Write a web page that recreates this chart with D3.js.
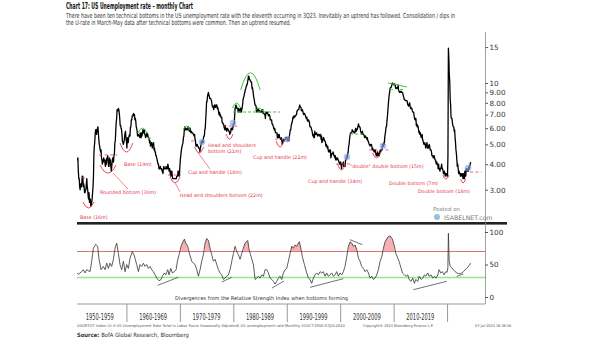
<!DOCTYPE html>
<html>
<head>
<meta charset="utf-8">
<script src="https://cdn.jsdelivr.net/npm/d3@7/dist/d3.min.js"></script>
<style>
  body { margin: 0; background: #fff; }
  svg { display: block; }
  .narrow { font-family: "Liberation Sans Narrow", "Arial Narrow", "DejaVu Sans Condensed", sans-serif; }
  .verd { font-family: "DejaVu Sans", Verdana, sans-serif; }
</style>
</head>
<body>
<svg id="chart" width="605" height="341"></svg>
<script>
// US unemployment rate (U-3, SA), monthly, first value = Oct 1950
var firstMonth = 1950 + 9 / 12;
var unrate = [
  4.2, 4.2, 4.3,
  3.7, 3.4, 3.4, 3.1, 3.0, 3.2, 3.1, 3.1, 3.3, 3.5, 3.5, 3.1,   // 1951
  3.2, 3.1, 2.9, 2.9, 3.0, 3.0, 3.2, 3.4, 3.1, 3.0, 2.8, 2.7,   // 1952
  2.9, 2.6, 2.6, 2.7, 2.5, 2.5, 2.6, 2.7, 2.9, 3.1, 3.5, 4.5,   // 1953
  4.9, 5.2, 5.7, 5.9, 5.9, 5.6, 5.8, 6.0, 6.1, 5.7, 5.3, 5.0,   // 1954
  4.9, 4.7, 4.6, 4.7, 4.3, 4.2, 4.0, 4.2, 4.1, 4.3, 4.2, 4.2,   // 1955
  4.0, 3.9, 4.2, 4.0, 4.3, 4.3, 4.4, 4.1, 3.9, 3.9, 4.3, 4.2,   // 1956
  4.2, 3.9, 3.7, 3.9, 4.1, 4.3, 4.2, 4.1, 4.4, 4.5, 5.1, 5.2,   // 1957
  5.8, 6.4, 6.7, 7.4, 7.4, 7.3, 7.5, 7.4, 7.1, 6.7, 6.2, 6.2,   // 1958
  6.0, 5.9, 5.6, 5.2, 5.1, 5.0, 5.1, 5.2, 5.5, 5.7, 5.8, 5.3,   // 1959
  5.2, 4.8, 5.4, 5.2, 5.1, 5.4, 5.5, 5.6, 5.5, 6.1, 6.1, 6.6,   // 1960
  6.6, 6.9, 6.9, 7.0, 7.1, 6.9, 7.0, 6.6, 6.7, 6.5, 6.1, 6.0,   // 1961
  5.8, 5.5, 5.6, 5.6, 5.5, 5.5, 5.4, 5.7, 5.6, 5.4, 5.7, 5.5,   // 1962
  5.7, 5.9, 5.7, 5.7, 5.9, 5.6, 5.6, 5.4, 5.5, 5.5, 5.7, 5.5,   // 1963
  5.6, 5.4, 5.4, 5.3, 5.1, 5.2, 4.9, 5.0, 5.1, 5.1, 4.8, 5.0,   // 1964
  4.9, 5.1, 4.7, 4.8, 4.6, 4.6, 4.4, 4.4, 4.3, 4.2, 4.1, 4.0,   // 1965
  4.0, 3.8, 3.8, 3.8, 3.9, 3.8, 3.8, 3.8, 3.7, 3.7, 3.6, 3.8,   // 1966
  3.9, 3.8, 3.8, 3.8, 3.8, 3.9, 3.8, 3.8, 3.8, 4.0, 3.9, 3.8,   // 1967
  3.7, 3.8, 3.7, 3.5, 3.5, 3.7, 3.7, 3.5, 3.4, 3.4, 3.4, 3.4,   // 1968
  3.4, 3.4, 3.4, 3.4, 3.4, 3.5, 3.5, 3.5, 3.7, 3.7, 3.5, 3.5,   // 1969
  3.9, 4.2, 4.4, 4.6, 4.8, 4.9, 5.0, 5.1, 5.4, 5.5, 5.9, 6.1,   // 1970
  5.9, 5.9, 6.0, 5.9, 5.9, 5.9, 6.0, 6.1, 6.0, 5.8, 6.0, 6.0,   // 1971
  5.8, 5.7, 5.8, 5.7, 5.7, 5.7, 5.6, 5.6, 5.5, 5.6, 5.3, 5.2,   // 1972
  4.9, 5.0, 4.9, 5.0, 4.9, 4.9, 4.8, 4.8, 4.8, 4.6, 4.8, 4.9,   // 1973
  5.1, 5.2, 5.1, 5.1, 5.1, 5.4, 5.5, 5.5, 5.9, 6.0, 6.6, 7.2,   // 1974
  8.1, 8.1, 8.6, 8.8, 9.0, 8.8, 8.6, 8.4, 8.4, 8.4, 8.3, 8.2,   // 1975
  7.9, 7.7, 7.6, 7.7, 7.4, 7.6, 7.8, 7.8, 7.6, 7.7, 7.8, 7.8,   // 1976
  7.5, 7.6, 7.4, 7.2, 7.0, 7.2, 6.9, 7.0, 6.8, 6.8, 6.8, 6.4,   // 1977
  6.4, 6.3, 6.3, 6.1, 6.0, 5.9, 6.2, 5.9, 6.0, 5.8, 5.9, 6.0,   // 1978
  5.9, 5.9, 5.8, 5.8, 5.6, 5.7, 5.7, 6.0, 5.9, 6.0, 5.9, 6.0,   // 1979
  6.3, 6.3, 6.3, 6.9, 7.5, 7.6, 7.8, 7.7, 7.5, 7.5, 7.5, 7.2,   // 1980
  7.5, 7.4, 7.4, 7.2, 7.5, 7.5, 7.2, 7.4, 7.6, 7.9, 8.3, 8.5,   // 1981
  8.6, 8.9, 9.0, 9.3, 9.4, 9.6, 9.8, 9.8, 10.1, 10.4, 10.8, 10.8, // 1982
  10.4, 10.4, 10.3, 10.2, 10.1, 10.1, 9.4, 9.5, 9.2, 8.8, 8.5, 8.3, // 1983
  8.0, 7.8, 7.8, 7.7, 7.4, 7.2, 7.5, 7.5, 7.3, 7.4, 7.2, 7.3,   // 1984
  7.3, 7.2, 7.2, 7.3, 7.2, 7.4, 7.4, 7.1, 7.1, 7.1, 7.0, 7.0,   // 1985
  6.7, 7.2, 7.2, 7.1, 7.2, 7.2, 7.0, 6.9, 7.0, 7.0, 6.9, 6.6,   // 1986
  6.6, 6.6, 6.6, 6.3, 6.3, 6.2, 6.1, 6.0, 5.9, 6.0, 5.8, 5.7,   // 1987
  5.7, 5.7, 5.7, 5.4, 5.6, 5.4, 5.4, 5.6, 5.4, 5.4, 5.3, 5.3,   // 1988
  5.4, 5.2, 5.0, 5.2, 5.2, 5.3, 5.2, 5.2, 5.3, 5.3, 5.4, 5.4,   // 1989
  5.4, 5.3, 5.2, 5.4, 5.4, 5.2, 5.5, 5.7, 5.9, 5.9, 6.2, 6.3,   // 1990
  6.4, 6.6, 6.8, 6.7, 6.9, 6.9, 6.8, 6.9, 6.9, 7.0, 7.0, 7.3,   // 1991
  7.3, 7.4, 7.4, 7.4, 7.6, 7.8, 7.7, 7.6, 7.6, 7.3, 7.4, 7.4,   // 1992
  7.3, 7.1, 7.0, 7.1, 7.1, 7.0, 6.9, 6.8, 6.7, 6.8, 6.6, 6.5,   // 1993
  6.6, 6.6, 6.5, 6.4, 6.1, 6.1, 6.1, 6.0, 5.9, 5.8, 5.6, 5.5,   // 1994
  5.6, 5.4, 5.4, 5.8, 5.6, 5.6, 5.7, 5.7, 5.6, 5.5, 5.6, 5.6,   // 1995
  5.6, 5.5, 5.5, 5.6, 5.6, 5.3, 5.5, 5.1, 5.2, 5.2, 5.4, 5.4,   // 1996
  5.3, 5.2, 5.2, 5.1, 4.9, 5.0, 4.9, 4.8, 4.9, 4.7, 4.6, 4.7,   // 1997
  4.6, 4.6, 4.7, 4.3, 4.4, 4.5, 4.5, 4.5, 4.6, 4.5, 4.4, 4.4,   // 1998
  4.3, 4.4, 4.2, 4.3, 4.2, 4.3, 4.3, 4.2, 4.2, 4.1, 4.1, 4.0,   // 1999
  4.0, 4.1, 4.0, 3.8, 4.0, 4.0, 4.0, 4.1, 3.9, 3.9, 3.9, 3.9,   // 2000
  4.2, 4.2, 4.3, 4.4, 4.3, 4.5, 4.6, 4.9, 5.0, 5.3, 5.5, 5.7,   // 2001
  5.7, 5.7, 5.7, 5.9, 5.8, 5.8, 5.8, 5.7, 5.7, 5.7, 5.9, 6.0,   // 2002
  5.8, 5.9, 5.9, 6.0, 6.1, 6.3, 6.2, 6.1, 6.1, 6.0, 5.8, 5.7,   // 2003
  5.7, 5.6, 5.8, 5.6, 5.6, 5.6, 5.5, 5.4, 5.4, 5.5, 5.4, 5.4,   // 2004
  5.3, 5.4, 5.2, 5.2, 5.1, 5.0, 5.0, 4.9, 5.0, 5.0, 5.0, 4.9,   // 2005
  4.7, 4.8, 4.7, 4.7, 4.6, 4.6, 4.7, 4.7, 4.5, 4.4, 4.5, 4.4,   // 2006
  4.6, 4.5, 4.4, 4.5, 4.4, 4.6, 4.7, 4.6, 4.7, 4.7, 4.7, 5.0,   // 2007
  5.0, 4.9, 5.1, 5.0, 5.4, 5.6, 5.8, 6.1, 6.1, 6.5, 6.8, 7.3,   // 2008
  7.8, 8.3, 8.7, 9.0, 9.4, 9.5, 9.5, 9.6, 9.8, 10.0, 9.9, 9.9,  // 2009
  9.8, 9.8, 9.9, 9.9, 9.6, 9.4, 9.4, 9.5, 9.5, 9.4, 9.8, 9.3,   // 2010
  9.1, 9.0, 9.0, 9.1, 9.0, 9.1, 9.0, 9.0, 9.0, 8.8, 8.6, 8.5,   // 2011
  8.3, 8.3, 8.2, 8.2, 8.2, 8.2, 8.2, 8.0, 7.8, 7.8, 7.7, 7.9,   // 2012
  8.0, 7.7, 7.5, 7.6, 7.5, 7.5, 7.3, 7.2, 7.2, 7.2, 6.9, 6.7,   // 2013
  6.6, 6.7, 6.7, 6.2, 6.3, 6.1, 6.2, 6.1, 5.9, 5.7, 5.8, 5.6,   // 2014
  5.7, 5.5, 5.4, 5.4, 5.6, 5.3, 5.2, 5.1, 5.0, 5.0, 5.1, 5.0,   // 2015
  4.8, 4.9, 5.0, 5.1, 4.8, 4.9, 4.8, 4.9, 5.0, 4.9, 4.7, 4.7,   // 2016
  4.7, 4.6, 4.4, 4.4, 4.4, 4.3, 4.3, 4.4, 4.3, 4.2, 4.2, 4.1,   // 2017
  4.0, 4.1, 4.0, 4.0, 3.8, 4.0, 3.8, 3.8, 3.7, 3.8, 3.8, 3.9,   // 2018
  4.0, 3.8, 3.8, 3.7, 3.6, 3.6, 3.7, 3.6, 3.5, 3.6, 3.6, 3.6,   // 2019
  3.5, 3.5, 4.4, 14.8, 13.2, 11.0, 10.2, 8.4, 7.8, 6.8, 6.7, 6.7, // 2020
  6.4, 6.2, 6.1, 6.1, 5.8, 5.9, 5.4, 5.1, 4.7, 4.5, 4.2, 3.9,   // 2021
  4.0, 3.8, 3.6, 3.7, 3.6, 3.6, 3.5, 3.6, 3.5, 3.6, 3.6, 3.5,   // 2022
  3.4, 3.6, 3.5, 3.4, 3.7, 3.6, 3.5, 3.8, 3.8, 3.8, 3.7, 3.7,   // 2023
  3.7, 3.9, 3.8, 3.9, 4.0, 4.1                                  // 2024
];

// RSI of the rate: [year, rsi]
var rsiPoints = [
  [1950.75,37],[1951.0,35],[1951.63,39],[1951.94,42],[1952.25,37],[1952.56,42],[1953.19,39],[1953.5,55],
  [1953.81,75],[1954.25,81],[1954.62,78],[1954.87,58],[1955.25,42],[1955.68,47],[1956.0,42],[1956.31,52],
  [1956.62,44],[1956.93,52],[1957.24,47],[1957.56,58],[1957.87,75],[1958.18,83],[1958.49,67],[1958.8,50],
  [1959.12,42],[1959.43,55],[1959.74,39],[1960.05,50],[1960.36,44],[1960.68,60],[1961.11,70],[1961.49,63],
  [1961.92,50],[1962.24,39],[1962.55,50],[1962.86,47],[1963.17,52],[1963.48,47],[1963.8,50],[1964.11,44],
  [1964.42,47],[1964.73,42],[1965.04,39],[1965.36,34],[1965.67,29],[1966.1,25],[1966.48,27],[1966.73,32],
  [1967.1,37],[1967.35,34],[1967.73,42],[1967.98,34],[1968.29,44],[1968.6,37],[1968.98,39],[1969.29,42],
  [1969.54,55],[1969.85,65],[1970.22,78],[1970.47,83],[1970.85,89],[1971.1,83],[1971.47,78],[1971.78,67],
  [1972.22,55],[1972.53,52],[1972.84,50],[1973.16,42],[1973.47,32],[1973.78,42],[1974.09,55],[1974.4,65],
  [1974.72,83],[1975.03,90],[1975.34,87],[1975.65,75],[1975.96,65],[1976.28,55],[1976.59,58],[1976.9,50],
  [1977.21,42],[1977.52,37],[1977.84,34],[1978.15,27],[1978.46,29],[1978.77,32],[1979.08,34],[1979.4,42],
  [1979.71,55],[1980.02,67],[1980.33,78],[1980.64,70],[1980.96,65],[1981.27,58],[1981.58,67],[1981.89,75],
  [1982.2,83],[1982.7,87],[1982.95,73],[1983.33,62],[1983.76,50],[1984.08,27],[1984.39,29],[1984.7,32],
  [1985.01,29],[1985.32,34],[1985.64,32],[1985.95,42],[1986.26,42],[1986.57,37],[1986.88,29],[1987.2,27],
  [1987.51,24],[1987.82,20],[1988.12,24],[1988.43,29],[1988.75,32],[1989.06,27],[1989.37,37],[1989.68,42],
  [1989.99,44],[1990.31,55],[1990.62,67],[1990.93,78],[1991.24,75],[1991.55,80],[1991.87,78],[1992.18,83],
  [1992.37,85],[1992.68,73],[1992.93,62],[1993.3,50],[1993.74,37],[1994.05,29],[1994.36,27],[1994.67,21],
  [1994.99,29],[1995.3,34],[1995.61,37],[1995.92,34],[1996.23,39],[1996.55,37],[1996.86,39],[1997.17,32],
  [1997.48,37],[1997.79,32],[1998.11,34],[1998.42,37],[1998.73,32],[1999.04,34],[1999.35,39],[1999.67,32],
  [1999.98,37],[2000.29,34],[2000.6,39],[2000.91,47],[2001.23,62],[2001.54,78],[2001.85,85],[2002.16,83],
  [2002.47,78],[2002.79,80],[2003.1,73],[2003.41,60],[2003.72,55],[2004.03,47],[2004.35,44],[2004.66,39],
  [2004.97,42],[2005.28,37],[2005.59,29],[2005.91,32],[2006.22,27],[2006.53,29],[2006.84,34],[2007.15,42],
  [2007.47,55],[2007.78,62],[2008.09,75],[2008.4,85],[2008.9,92],[2009.34,94],[2009.77,89],[2010.15,78],
  [2010.4,67],[2010.77,60],[2011.02,55],[2011.4,44],[2011.65,37],[2012.02,34],[2012.33,32],[2012.65,34],
  [2012.89,27],[2013.27,24],[2013.58,29],[2013.89,21],[2014.14,27],[2014.52,24],[2014.77,32],[2015.14,27],
  [2015.45,29],[2015.77,34],[2016.02,32],[2016.39,37],[2016.64,32],[2017.01,34],[2017.33,29],[2017.64,32],
  [2017.95,29],[2018.26,34],[2018.51,42],[2018.82,37],[2019.13,39],[2019.45,34],[2019.76,39],[2020.0,38],
  [2020.15,45],[2020.25,98],[2020.4,55],[2020.6,47],[2020.88,45],[2021.19,42],[2021.51,39],[2021.82,37],
  [2022.13,36],[2022.44,36],[2022.76,37],[2023.07,39],[2023.38,42],[2023.69,44],[2024.0,47],[2024.4,52]
];

// overbought episodes that are shaded pink
var shadedPeaks = [[1970.1,1971.7],[1974.5,1975.9],[1981.8,1983.1],[1990.6,1992.8],[2001.3,2003.3],[2008.0,2010.3]];

var rateTicks = [3, 4, 5, 6, 7, 8, 9, 10, 15];
var rsiTicks = [0, 50, 100];
var decadeBreaks = [1960, 1970, 1980, 1990, 2000, 2010, 2020];
var decadeLabels = ["1950-1959", "1960-1969", "1970-1979", "1980-1989", "1990-1999", "2000-2009", "2010-2019"];
var rsiLevels = [30, 70];

// chart pattern annotations, in data units
var patternLabels = [
  ["Base (16m)", 1951.3, 2.20],
  ["Rounded bottom (30m)", 1955.05, 2.92],
  ["Base (19m)", 1959.55, 4.01],
  ["Head and shoulders bottom (22m)", 1970.0, 2.82],
  ["Cup and handle (18m)", 1971.5, 3.66],
  ["Head and shoulders", 1975.27, 4.97],
  ["bottom (21m)", 1975.27, 4.64],
  ["Cup and handle (22m)", 1983.7, 4.34],
  ["Cup and handle (34m)", 1994.0, 3.31],
  ["\"double\" double bottom (15m)", 2001.85, 3.92],
  ["Double bottom (7m)", 2009.15, 3.24],
  ["Double bottom (18m)", 2014.55, 2.96]
];
// [centre year, half width (years), apex value, end value]
var bottomArcs = [
  [1952.9, 1.03, 2.44, 2.61], [1956.55, 1.5, 3.62, 3.96], [1960.0, 1.2, 4.59, 5.08],
  [1969.1, 0.94, 3.24, 3.46], [1973.6, 0.84, 4.54, 4.85], [1979.3, 0.65, 5.31, 5.62],
  [1988.75, 0.75, 4.85, 5.2], [2000.25, 0.75, 3.75, 4.01], [2006.8, 0.75, 4.29, 4.54],
  [2019.8, 0.56, 3.38, 3.54], [2023.0, 0.47, 3.24, 3.38]
];
var topArcs = [
  [1963.0, 0.84, 6.01, 5.69], [1971.25, 0.65, 6.15, 5.88], [1980.6, 0.75, 7.98, 7.54],
  [1983.2, 1.82, 11.23, 9.24], [1984.8, 0.75, 7.54, 7.29]
];
var necklines = [
  [1951.7, 1952.4, 3.42], [1954.9, 1958.3, 4.44], [1967.8, 1970.2, 3.54], [1972.1, 1973.2, 5.2],
  [1978.1, 1980.7, 6.15], [1987.8, 1990.6, 5.31], [1999.2, 2001.85, 4.01], [2005.4, 2009.3, 4.7],
  [2024.3, 2026.5, 3.66]
];
var leaders = [
  [1957.5, 3.62, 1960.3, 3.02], [1969.1, 3.23, 1970.03, 2.93], [1973.4, 4.54, 1975.65, 3.79]
];
var breakouts = [[1974.14, 5.14], [1979.95, 6.37], [1990.05, 5.31], [2001.28, 4.34], [2008.0, 4.91], [2023.93, 3.83]];
var topLines = [[1964.0, 1964.8, 5.37], [1979.95, 1988.74, 7.21], [2001.84, 2004.27, 5.62], [2009.3, 2009.9, 9.3], [2011.2, 2011.8, 9.3]];
var topTrend = [2008.96, 10.0, 2012.5, 9.56];
var divergences = [
  [1965.85, 18, 1969.71, 30.3], [1977.83, 23, 1979.7, 30.3], [1987.25, 13.8, 1989.49, 24.6],
  [1994.36, 14.9, 2000.59, 28.2], [2001.84, 88.2, 2004.15, 80.5], [2013.69, 11.2, 2019.94, 24.2],
  [2021.81, 31.8, 2023.05, 35.4]
];

var title = "Chart 17: US Unemployment rate \u2013 monthly Chart";
var subtitle = [
  "There have been ten technical bottoms in the US unemployment rate with the eleventh occurring in 3Q23. Inevitably an uptrend has followed. Consolidation / dips in",
  "the U-rate in March-May data after technical bottoms were common. Then an uptrend resumed."
];

var svg = d3.select("#chart");
var red = "#e8344e", green = "#35c935";

var x = d3.scaleLinear().domain([1950.75, 2027.1]).range([77, 485]);
var y = d3.scaleLog().domain([2.06, 17.78]).range([223, 32]);
var yr = d3.scaleLinear().domain([0, 100]).range([297, 232]);

// header
svg.append("text").attr("class", "narrow").attr("x", 66).attr("y", 8.5)
  .attr("font-size", 8.5).attr("font-weight", "bold").attr("fill", "#111")
  .attr("textLength", 127).attr("lengthAdjust", "spacingAndGlyphs").text(title);
svg.selectAll(".sub").data(subtitle).enter().append("text").attr("class", "narrow")
  .attr("x", 66).attr("y", function (d, i) { return 17.5 + i * 7.6; })
  .attr("font-size", 7).attr("fill", "#333")
  .attr("textLength", function (d, i) { return i === 0 ? 389 : 225; })
  .attr("lengthAdjust", "spacingAndGlyphs").text(function (d) { return d; });

// clip for the top panel
svg.append("clipPath").attr("id", "topClip").append("rect")
  .attr("x", 77).attr("y", 30).attr("width", 408).attr("height", 193);

// unemployment line
var rateLine = d3.line()
  .x(function (d, i) { return x(firstMonth + i / 12); })
  .y(function (d) { return y(d); });
svg.append("path").datum(unrate).attr("clip-path", "url(#topClip)")
  .attr("d", rateLine).attr("fill", "none").attr("stroke", "#000").attr("stroke-width", 1.3)
  .attr("stroke-linejoin", "round");

// annotations on the top panel
function arcPath(a) {
  var cx = x(a[0]), hw = x(a[0] + a[1]) - cx, ap = y(a[2]), en = y(a[3]);
  return "M" + (cx - hw) + "," + en + "Q" + cx + "," + (2 * ap - en) + " " + (cx + hw) + "," + en;
}
var ann = svg.append("g");
ann.selectAll(".neck").data(necklines).enter().append("line")
  .attr("x1", function (d) { return x(d[0]); }).attr("x2", function (d) { return x(d[1]); })
  .attr("y1", function (d) { return y(d[2]); }).attr("y2", function (d) { return y(d[2]); })
  .attr("stroke", red).attr("stroke-width", 0.9).attr("stroke-dasharray", "3,2.5").attr("opacity", 0.85);
ann.selectAll(".tl").data(topLines).enter().append("line")
  .attr("x1", function (d) { return x(d[0]); }).attr("x2", function (d) { return x(d[1]); })
  .attr("y1", function (d) { return y(d[2]); }).attr("y2", function (d) { return y(d[2]); })
  .attr("stroke", green).attr("stroke-width", 1).attr("stroke-dasharray", "3,2");
ann.append("line")
  .attr("x1", x(topTrend[0])).attr("y1", y(topTrend[1])).attr("x2", x(topTrend[2])).attr("y2", y(topTrend[3]))
  .attr("stroke", green).attr("stroke-width", 1);
ann.selectAll(".ba").data(bottomArcs).enter().append("path").attr("d", arcPath)
  .attr("fill", "none").attr("stroke", red).attr("stroke-width", 0.9);
ann.selectAll(".ta").data(topArcs).enter().append("path").attr("d", arcPath)
  .attr("fill", "none").attr("stroke", green).attr("stroke-width", 1);
ann.selectAll(".ld").data(leaders).enter().append("line")
  .attr("x1", function (d) { return x(d[0]); }).attr("y1", function (d) { return y(d[1]); })
  .attr("x2", function (d) { return x(d[2]); }).attr("y2", function (d) { return y(d[3]); })
  .attr("stroke", red).attr("stroke-width", 0.6);
ann.selectAll(".bo").data(breakouts).enter().append("circle")
  .attr("cx", function (d) { return x(d[0]); }).attr("cy", function (d) { return y(d[1]); })
  .attr("r", 3.3).attr("fill", "#7fa8ea").attr("fill-opacity", 0.65);
ann.selectAll(".pl").data(patternLabels).enter().append("text").attr("class", "verd")
  .attr("x", function (d) { return x(d[1]); }).attr("y", function (d) { return y(d[2]) + 1.7; })
  .attr("font-size", 4.8).attr("fill", red).text(function (d) { return d[0]; });

// posted on
svg.append("text").attr("class", "verd").attr("x", 433).attr("y", 211).attr("font-size", 5.5)
  .attr("fill", "#888").text("Posted on");
svg.append("circle").attr("cx", 437).attr("cy", 217).attr("r", 3).attr("fill", "#7ab0d8").attr("opacity", 0.8);
svg.append("text").attr("class", "verd").attr("x", 444).attr("y", 220).attr("font-size", 6.2)
  .attr("fill", "#777").text("ISABELNET.com");

// top axis
var rateAxis = d3.axisRight(y).tickValues(rateTicks).tickSize(3)
  .tickFormat(function (d) { return d >= 10 ? d3.format("d")(d) : d3.format(".2f")(d); });
var ga = svg.append("g").attr("transform", "translate(485,0)").call(rateAxis);
ga.select(".domain").remove();
ga.selectAll("line").attr("stroke", "#555");
ga.selectAll("text").attr("class", "verd").attr("font-size", 7.2).attr("fill", "#333").attr("x", 4.5);

// panel separator
svg.append("rect").attr("x", 77).attr("y", 222).attr("width", 430).attr("height", 2.6).attr("fill", "#222");
svg.append("line").attr("x1", 485.5).attr("x2", 485.5).attr("y1", 32).attr("y2", 304)
  .attr("stroke", "#888").attr("stroke-width", 0.8);

// RSI panel
svg.append("clipPath").attr("id", "above70").append("rect")
  .attr("x", 77).attr("y", 226).attr("width", 408).attr("height", yr(70) - 226);
var rsiArea = d3.area()
  .x(function (d) { return x(d[0]); }).y0(yr(70)).y1(function (d) { return yr(d[1]); });
shadedPeaks.forEach(function (w) {
  var pts = rsiPoints.filter(function (d) { return d[0] >= w[0] && d[0] <= w[1]; });
  svg.append("path").datum(pts).attr("clip-path", "url(#above70)")
    .attr("d", rsiArea).attr("fill", "#f3a3a6").attr("fill-opacity", 0.85);
});
svg.selectAll(".lvl").data(rsiLevels).enter().append("line")
  .attr("x1", 77).attr("x2", 485).attr("y1", function (d) { return yr(d); }).attr("y2", function (d) { return yr(d); })
  .attr("stroke", function (d) { return d === 70 ? "#e07070" : "#8fe88f"; })
  .attr("stroke-width", function (d) { return d === 70 ? 1 : 1.6; });
var rsiLine = d3.line().x(function (d) { return x(d[0]); }).y(function (d) { return yr(d[1]); });
svg.append("path").datum(rsiPoints).attr("d", rsiLine).attr("fill", "none")
  .attr("stroke", "#333").attr("stroke-width", 0.8);
svg.selectAll(".dv").data(divergences).enter().append("line")
  .attr("x1", function (d) { return x(d[0]); }).attr("y1", function (d) { return yr(d[1]); })
  .attr("x2", function (d) { return x(d[2]); }).attr("y2", function (d) { return yr(d[3]); })
  .attr("stroke", "#333").attr("stroke-width", 0.7);
svg.append("text").attr("class", "verd").attr("x", 175).attr("y", 299.5).attr("font-size", 5.2)
  .attr("fill", "#333").attr("textLength", 173).attr("lengthAdjust", "spacingAndGlyphs")
  .text("Divergences from the Relative Strength Index when bottoms forming");

var rsiAxis = d3.axisRight(yr).tickValues(rsiTicks).tickSize(3);
var gr = svg.append("g").attr("transform", "translate(485,0)").call(rsiAxis);
gr.select(".domain").remove();
gr.selectAll("line").attr("stroke", "#555");
gr.selectAll("text").attr("class", "verd").attr("font-size", 7.2).attr("fill", "#333").attr("x", 4.5);

// decade axis
var xAxis = d3.axisBottom(x).tickValues(decadeBreaks).tickSize(18).tickFormat("");
var gx = svg.append("g").attr("transform", "translate(0,304)").call(xAxis);
gx.select(".domain").attr("d", "M77,0H485").attr("stroke", "#999");
gx.selectAll("line").attr("stroke", "#999");
svg.selectAll(".dec").data(decadeLabels).enter().append("text").attr("class", "narrow")
  .attr("x", function (d, i) { return x(decadeBreaks[i] - 5); }).attr("y", 320)
  .attr("text-anchor", "middle").attr("font-size", 8.2).attr("fill", "#333")
  .attr("textLength", 28).attr("lengthAdjust", "spacingAndGlyphs").text(function (d) { return d; });

// footer
svg.append("text").attr("class", "narrow").attr("x", 77).attr("y", 326.5).attr("font-size", 3.8).attr("fill", "#555")
  .attr("textLength", 268).attr("lengthAdjust", "spacingAndGlyphs")
  .text("USURTOT Index (U-3 US Unemployment Rate Total in Labor Force Seasonally Adjusted) US unemployment rate Monthly 31OCT1950-07JUL2024");
svg.append("text").attr("class", "narrow").attr("x", 363).attr("y", 326.5).attr("font-size", 3.8).attr("fill", "#555")
  .text("Copyright\u00a9 2024 Bloomberg Finance L.P.");
svg.append("text").attr("class", "narrow").attr("x", 475).attr("y", 326.5).attr("font-size", 3.8).attr("fill", "#555")
  .text("07-Jul-2024 16:36:58");
var src = svg.append("text").attr("class", "narrow").attr("x", 77).attr("y", 337).attr("font-size", 5.8).attr("fill", "#333");
src.append("tspan").attr("font-weight", "bold").text("Source: ");
src.append("tspan").text("BofA Global Research, Bloomberg");
</script>
</body>
</html>
